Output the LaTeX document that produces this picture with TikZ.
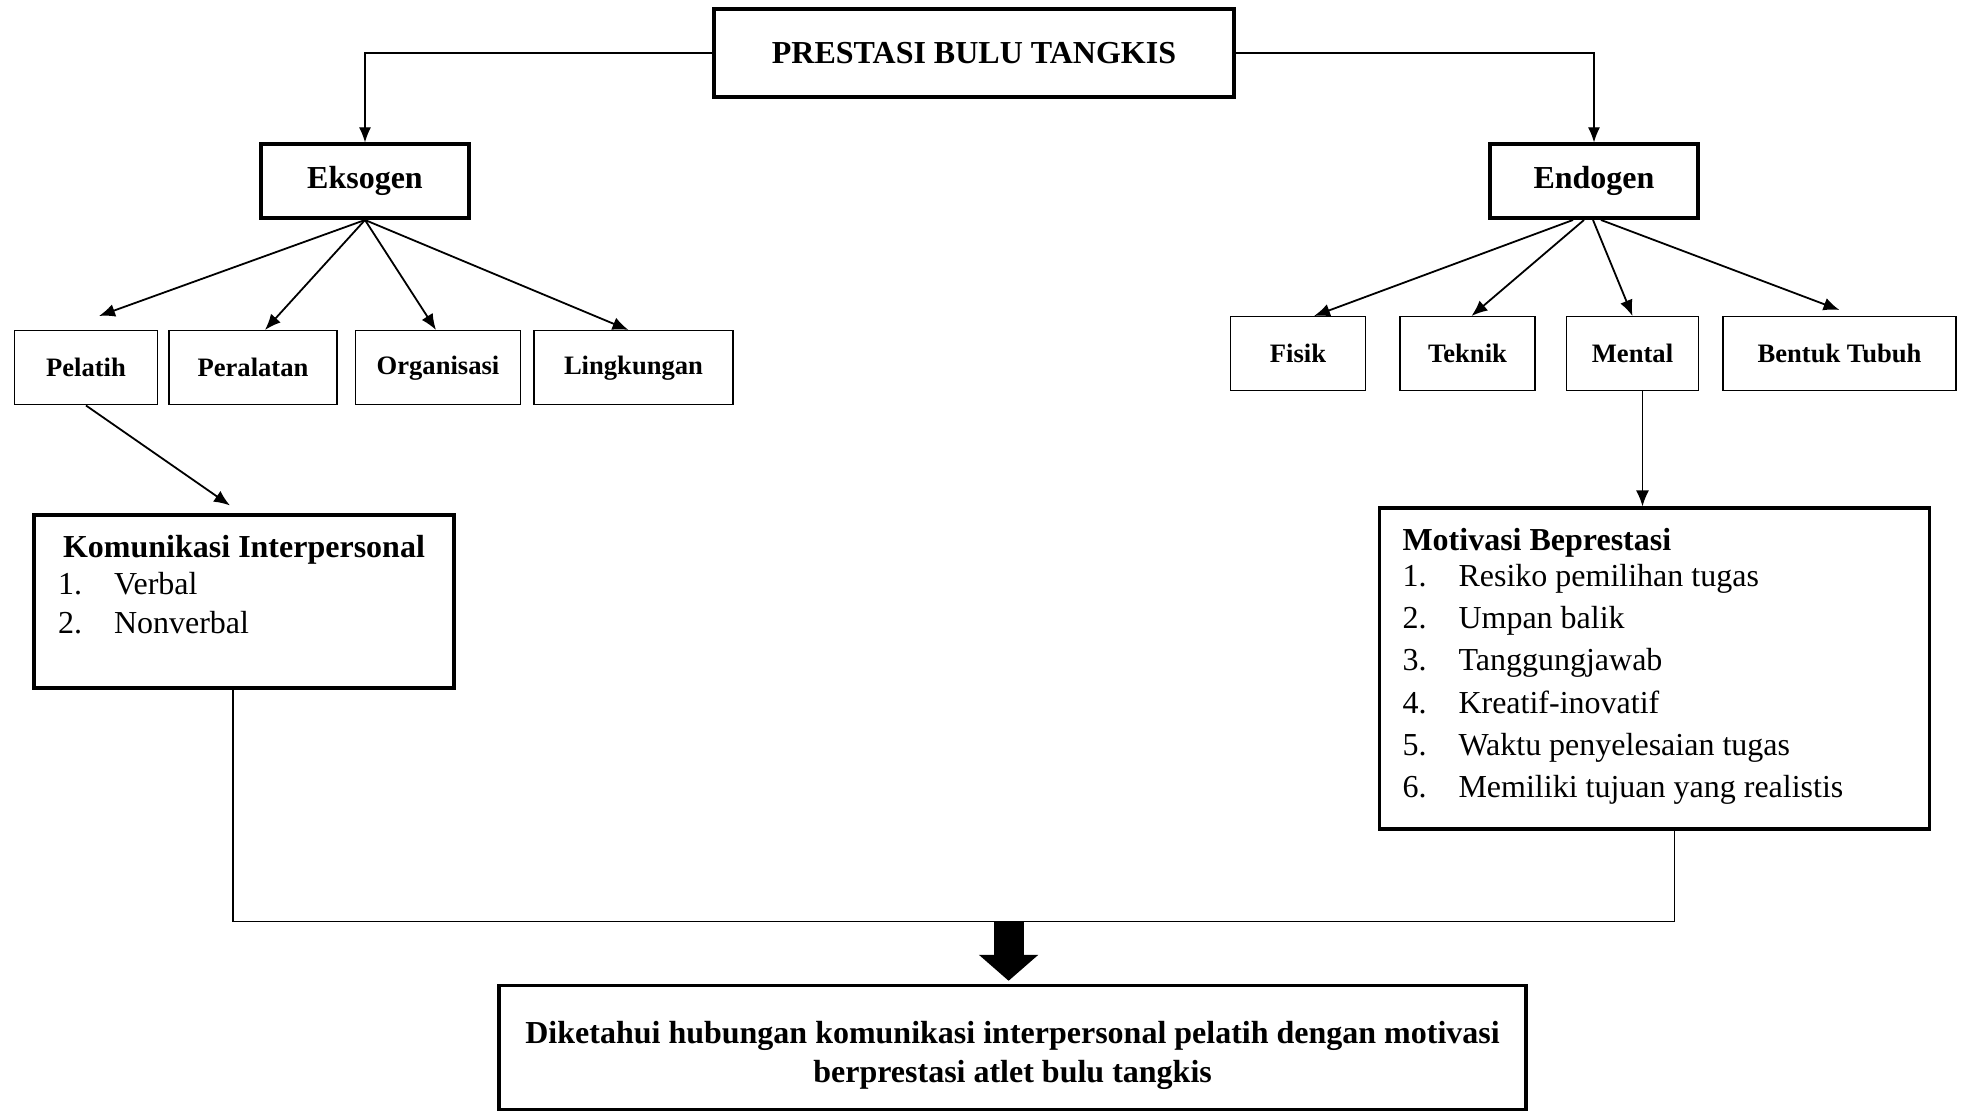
\documentclass[tikz,border=0pt]{standalone}
\usepackage{fontspec}
\setmainfont{Liberation Serif}
\usetikzlibrary{arrows.meta,positioning}

\begin{document}
\begin{tikzpicture}[
        node distance=20pt and 10pt,
        every node/.style={font=\fontsize{16}{19.5}\selectfont},
        mainbox/.style={draw, line width=1.8pt, font=\fontsize{16}{19.5}\selectfont\bfseries, minimum height=37pt, align=center},
        subbox/.style={draw, line width=0.75pt, font=\fontsize{13.3}{16}\selectfont\bfseries, minimum height=37pt, inner sep=0pt},
        listbox/.style={draw, line width=1.8pt, inner sep=0pt},
        arr/.style={-{Latex[length=8pt,width=6.5pt]}, line width=0.9pt},
        link/.style={line width=0.6pt}
    ]
    \useasboundingbox (0,0) rectangle (983pt,-555.5pt);

    % Nodes
    \node[mainbox, minimum width=260pt, minimum height=44pt] (title) at (487pt,-26.5pt) {PRESTASI BULU TANGKIS};

    \node[mainbox, minimum width=104pt] (eks) [below=21.8pt of title, xshift=-304.5pt] {Eksogen};
    \node[mainbox, minimum width=104pt] (endo) [below=21.8pt of title, xshift=310pt] {Endogen};

    \node[subbox, minimum width=71.5pt] (pel) [below=55pt of eks, xshift=-139.5pt] {Pelatih};
    \node[subbox, minimum width=84pt] (per) [right=5pt of pel] {Peralatan};
    \node[subbox, minimum width=82.5pt] (org) [right=8.5pt of per] {Organisasi};
    \node[subbox, minimum width=99.5pt] (lin) [right=6pt of org] {Lingkungan};

    \node[subbox, minimum width=67.5pt] (fis) [below=48pt of endo, xshift=-148pt] {Fisik};
    \node[subbox, minimum width=67.5pt] (tek) [right=16.5pt of fis] {Teknik};
    \node[subbox, minimum width=66pt] (men) [right=15pt of tek] {Mental};
    \node[subbox, minimum width=116.5pt] (ben) [right=11.5pt of men] {Bentuk Tubuh};

    \node[listbox, minimum width=210pt, text height=21pt, text depth=65.5pt] (kom) [below=54pt of pel, xshift=79pt] {%
        \begin{tabular}[t]{@{}p{28pt}@{}p{158pt}@{}}
        \multicolumn{2}{@{}c@{}}{\textbf{Komunikasi Interpersonal}}\\[-1pt]
        1. & Verbal\\
        2. & Nonverbal
        \end{tabular}};

    \node[listbox, font=\fontsize{16}{21.1}\selectfont, minimum width=275pt, text height=21pt, text depth=139.5pt] (moti) [below=57.5pt of men, xshift=11pt] {%
        \begin{tabular}[t]{@{}p{28pt}@{}p{224pt}@{}}
        \multicolumn{2}{@{}l@{}}{\textbf{Motivasi Beprestasi}}\\[-3pt]
        1. & Resiko pemilihan tugas\\
        2. & Umpan balik\\
        3. & Tanggungjawab\\
        4. & Kreatif-inovatif\\
        5. & Waktu penyelesaian tugas\\
        6. & Memiliki tujuan yang realistis
        \end{tabular}};

    \node[mainbox, minimum width=513.5pt, minimum height=62pt] (fin) [below=442.5pt of title, xshift=19.3pt] {\rule{0pt}{19pt}Diketahui hubungan komunikasi interpersonal pelatih dengan motivasi\\berprestasi atlet bulu tangkis};

    % Edges
    \draw[link, -{Latex[length=7.5pt,width=6pt]}] (title.west) -| (eks.north);
    \draw[link, -{Latex[length=7.5pt,width=6pt]}] (title.east) -| (endo.north);

    \draw[arr] (eks.south) -- ([xshift=6.5pt,yshift=7pt]pel.north);
    \draw[arr] (eks.south) -- ([xshift=6pt]per.north);
    \draw[arr] (eks.south) -- ([xshift=-1pt]org.north);
    \draw[arr] (eks.south) -- ([xshift=-2.5pt]lin.north);

    \draw[arr] ([xshift=-10.5pt]endo.south) -- ([xshift=8pt]fis.north);
    \draw[arr] ([xshift=-5pt]endo.south) -- ([xshift=2pt]tek.north);
    \draw[arr] ([xshift=-0.5pt]endo.south) -- (men.north);
    \draw[arr] ([xshift=3.5pt]endo.south) -- ([yshift=3pt]ben.north);

    \draw[arr] (pel.south) -- ([xshift=-7pt,yshift=4pt]kom.north);
    \draw[arr] ([xshift=5pt]men.south) -- ([xshift=5pt]men.south |- moti.north);

    \coordinate (join) at ([xshift=-2pt,yshift=31pt]fin.north);
    \draw[link] ([xshift=-5.5pt]kom.south) |- (join) -| ([xshift=10pt]moti.south);
    \draw[line width=15pt, -{Triangle[length=13pt,width=29pt]}] (join) -- ([xshift=-2pt,yshift=1.5pt]fin.north);

\end{tikzpicture}
\end{document}
